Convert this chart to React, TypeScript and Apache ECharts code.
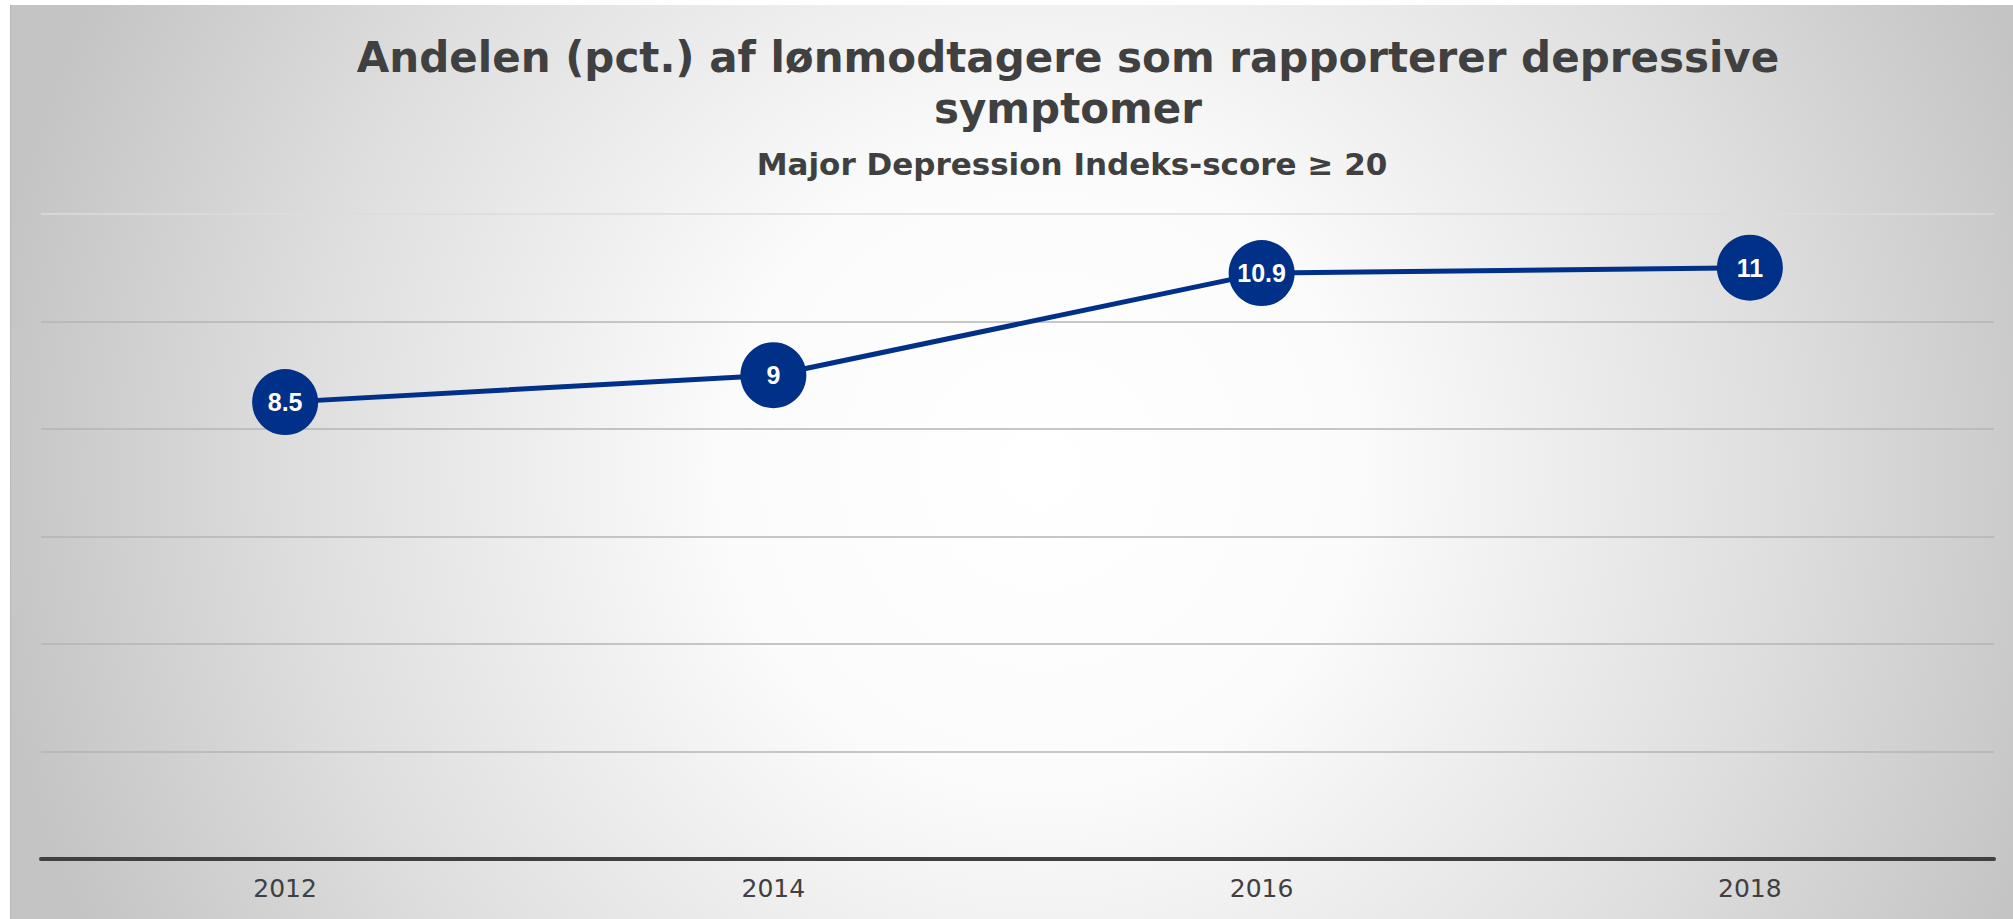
import React, { useEffect, useRef } from "react";
import * as echarts from "echarts";

const years = ["2012", "2014", "2016", "2018"];
const shares = [8.5, 9, 10.9, 11];
const yTicks = { min: 0, max: 12, interval: 2 };
const titleText = "Andelen (pct.) af lønmodtagere som rapporterer depressive\nsymptomer";
const subtitleText = "Major Depression Indeks-score ≥ 20";

export default function App() {
  const ref = useRef<HTMLDivElement>(null);
  useEffect(() => {
    if (!ref.current) return;
    const chart = echarts.init(ref.current, undefined, { renderer: "svg" });
    const gridColor = "#b4b4b4";
    chart.setOption({
      animation: false,
      graphic: [
        {
          type: "rect",
          z: -10,
          silent: true,
          shape: { x: 10, y: 5, width: 2003, height: 914 },
          style: {
            fill: {
              type: "radial",
              x: 1040,
              y: 470,
              r: 1060,
              global: true,
              colorStops: [
                { offset: 0, color: "#ffffff" },
                { offset: 0.3, color: "#fbfbfb" },
                { offset: 0.7, color: "#dedede" },
                { offset: 1, color: "#c4c4c4" },
              ],
            },
          },
        },
        {
          type: "line",
          z: -9,
          silent: true,
          shape: { x1: 10.5, y1: 5, x2: 10.5, y2: 919 },
          style: { stroke: "#b8b8b8", lineWidth: 1 },
        },
      ],
      title: [
        {
          text: titleText,
          left: 1068,
          top: 32,
          textAlign: "center",
          padding: 0,
          textStyle: {
            fontFamily: "DejaVu Sans",
            fontWeight: "bold",
            fontSize: 42,
            lineHeight: 51,
            color: "#404040",
          },
        },
        {
          text: subtitleText,
          left: 1072,
          top: 147,
          textAlign: "center",
          padding: 0,
          textStyle: {
            fontFamily: "DejaVu Sans",
            fontWeight: "bold",
            fontSize: 31,
            lineHeight: 34,
            color: "#404040",
          },
        },
      ],
      grid: { left: 41, right: 19, top: 214, bottom: 60, containLabel: false },
      xAxis: {
        type: "category",
        data: years,
        boundaryGap: true,
        axisLine: { show: true, lineStyle: { color: "#404040", width: 4 } },
        axisTick: { show: false },
        axisLabel: {
          fontFamily: "DejaVu Sans",
          fontSize: 25,
          color: "#404040",
          margin: 17,
        },
        splitLine: { show: false },
      },
      yAxis: {
        type: "value",
        min: yTicks.min,
        max: yTicks.max,
        interval: yTicks.interval,
        axisLine: { show: false },
        axisTick: { show: false },
        axisLabel: { show: false },
        splitLine: {
          show: true,
          lineStyle: {
            color: [gridColor, gridColor, gridColor, gridColor, gridColor, gridColor, "#dcdcdc"],
            width: 1.5,
          },
        },
      },
      series: [
        {
          type: "line",
          data: shares,
          symbol: "circle",
          symbolSize: 66,
          lineStyle: { color: "#003087", width: 5 },
          itemStyle: { color: "#003087" },
          label: {
            show: true,
            position: "inside",
            color: "#ffffff",
            fontFamily: "Liberation Sans",
            fontWeight: "bold",
            fontSize: 25,
          },
          z: 3,
        },
      ],
    });
    return () => chart.dispose();
  }, []);
  return (
    <div
      ref={ref}
      style={{ position: "absolute", left: 0, top: 0, width: 2013, height: 919 }}
    />
  );
}
